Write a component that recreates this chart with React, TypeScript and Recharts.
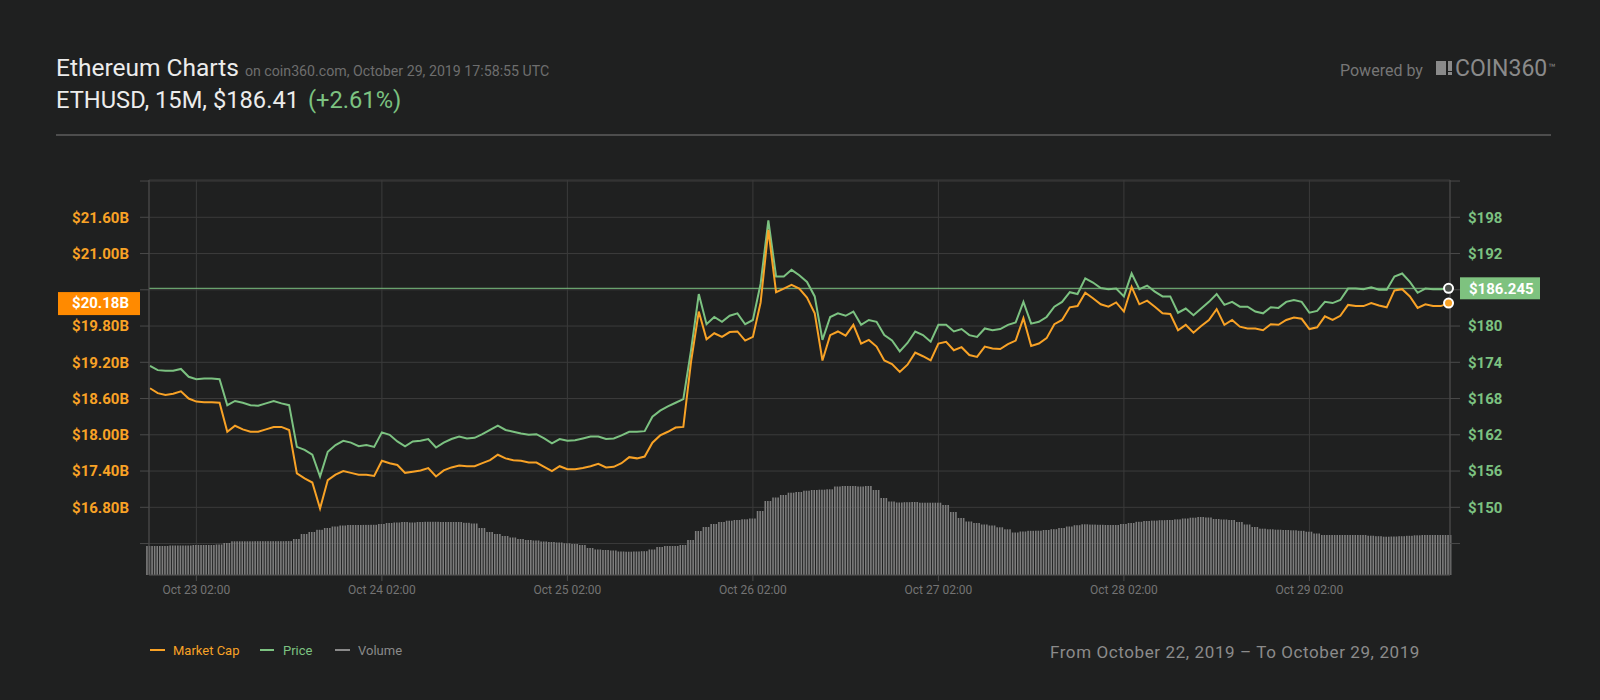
import React from "react";
import {Bar, CartesianGrid, ComposedChart, Line, ReferenceLine, XAxis, YAxis} from "recharts";

// hours counted from Oct 23 02:00, one point per hour
const firstHour = -6;

const price = [
    173.4, 172.7, 172.6, 172.6, 172.9, 171.6, 171.2, 171.3, 171.3, 171.2,
    166.9, 167.6, 167.3, 166.9, 166.8, 167.2, 167.6, 167.2, 166.9, 160.0,
    159.5, 158.7, 155.1, 159.2, 160.3, 161.0, 160.7, 160.1, 160.3, 160.0,
    162.4, 162.0, 160.9, 160.1, 160.9, 161.0, 161.3, 159.9, 160.7, 161.3,
    161.7, 161.4, 161.5, 162.1, 162.8, 163.5, 162.8, 162.5, 162.2, 162.0,
    162.1, 161.4, 160.6, 161.3, 161.0, 161.1, 161.4, 161.7, 161.7, 161.3,
    161.4, 161.9, 162.5, 162.5, 162.6, 165.0, 166.0, 166.7, 167.3, 167.9,
    176.0, 185.3, 180.3, 181.5, 180.7, 181.7, 182.1, 180.3, 181.0, 187.0,
    197.5, 188.2, 188.2, 189.3, 188.4, 187.3, 184.9, 177.7, 181.5, 182.1,
    181.7, 182.4, 180.2, 181.0, 180.7, 178.5, 177.6, 175.8, 177.2, 179.1,
    178.5, 177.4, 180.2, 180.2, 179.1, 179.5, 178.5, 178.2, 179.6, 179.3,
    179.5, 180.2, 180.6, 184.0, 180.4, 180.7, 181.5, 183.2, 184.0, 185.6,
    185.3, 187.9, 187.2, 186.3, 186.1, 186.2, 184.9, 188.7, 186.1, 186.7,
    185.7, 184.9, 184.9, 182.2, 182.9, 181.8, 182.9, 184.0, 185.3, 183.5,
    184.0, 183.2, 183.2, 182.4, 182.1, 183.1, 183.0, 184.0, 184.3, 184.0,
    182.2, 182.5, 184.0, 183.8, 184.3, 186.2, 186.2, 186.1, 186.4, 186.0,
    186.0, 188.2, 188.7, 187.3, 185.5, 186.2, 186.1, 186.1, 186.245,
];

// market cap, billions USD
const marketCap = [
    18.77, 18.69, 18.66, 18.68, 18.72, 18.60, 18.55, 18.54, 18.54, 18.53,
    18.05, 18.15, 18.09, 18.05, 18.05, 18.09, 18.13, 18.13, 18.08, 17.36,
    17.28, 17.21, 16.78, 17.25, 17.34, 17.40, 17.37, 17.34, 17.34, 17.32,
    17.57, 17.53, 17.50, 17.37, 17.39, 17.41, 17.45, 17.31, 17.41, 17.46,
    17.49, 17.48, 17.48, 17.53, 17.58, 17.67, 17.61, 17.58, 17.57, 17.54,
    17.54, 17.47, 17.40, 17.48, 17.43, 17.43, 17.45, 17.48, 17.52, 17.46,
    17.47, 17.53, 17.63, 17.61, 17.64, 17.87, 17.99, 18.05, 18.12, 18.13,
    19.21, 20.04, 19.58, 19.68, 19.62, 19.70, 19.71, 19.56, 19.62, 20.19,
    21.39, 20.36, 20.42, 20.48, 20.42, 20.27, 20.01, 19.23, 19.65, 19.71,
    19.64, 19.82, 19.51, 19.57, 19.46, 19.23, 19.17, 19.04, 19.16, 19.36,
    19.30, 19.23, 19.51, 19.54, 19.40, 19.45, 19.32, 19.29, 19.46, 19.43,
    19.42, 19.50, 19.56, 19.93, 19.47, 19.51, 19.60, 19.83, 19.90, 20.11,
    20.13, 20.35, 20.26, 20.16, 20.12, 20.19, 20.04, 20.45, 20.16, 20.22,
    20.12, 20.01, 20.00, 19.73, 19.82, 19.69, 19.80, 19.90, 20.08, 19.82,
    19.90, 19.79, 19.76, 19.76, 19.73, 19.83, 19.82, 19.90, 19.94, 19.92,
    19.75, 19.78, 19.96, 19.90, 19.97, 20.15, 20.13, 20.13, 20.18, 20.14,
    20.11, 20.39, 20.41, 20.29, 20.10, 20.16, 20.13, 20.13, 20.18,
];

// volume, millions USD
const volume = [
    290, 290, 290, 295, 295, 295, 300, 300, 300, 305,
    320, 337, 337, 337, 338, 338, 338, 338, 339, 360,
    410, 430, 452, 470, 485, 495, 500, 500, 501, 502,
    510, 520, 525, 530, 525, 530, 532, 532, 530, 530,
    530, 522, 515, 470, 430, 410, 390, 375, 360, 350,
    345, 335, 330, 325, 317, 310, 300, 270, 255, 250,
    245, 235, 233, 235, 238, 255, 280, 290, 290, 300,
    350, 440, 480, 510, 530, 543, 550, 557, 565, 640,
    740, 775, 800, 823, 830, 843, 850, 853, 857, 885,
    890, 890, 885, 890, 850, 770, 735, 725, 728, 730,
    723, 723, 723, 700, 630, 570, 535, 520, 505, 495,
    477, 457, 425, 435, 442, 443, 450, 458, 470, 485,
    498, 507, 504, 502, 500, 500, 510, 520, 532, 540,
    544, 548, 550, 556, 565, 573, 580, 575, 560, 555,
    550, 530, 505, 480, 463, 457, 453, 450, 447, 442,
    433, 415, 400, 400, 400, 400, 400, 400, 393, 388,
    383, 385, 388, 392, 397, 400, 400, 400, 400,
];

const dayTicks = [0, 24, 48, 72, 96, 120, 144];
const dayLabels = ["Oct 23 02:00", "Oct 24 02:00", "Oct 25 02:00", "Oct 26 02:00", "Oct 27 02:00", "Oct 28 02:00", "Oct 29 02:00"];
const capTicks = [16.2, 16.8, 17.4, 18.0, 18.6, 19.2, 19.8, 20.4, 21.0, 21.6, 22.2];
const capHidden = [16.2, 20.4, 22.2];
const priceTicks = [144, 150, 156, 162, 168, 174, 180, 186, 192, 198, 204];
const priceHidden = [144, 186, 204];
const lastPrice = 186.245;
const lastCap = 20.18;

const ORANGE = "#f8a226";
const GREEN = "#7cc281";
const BG = "#1f2020";
const GRID = "#3b3b3b";

const data = price.map((p, i) => ({t: firstHour + i, price: p, cap: marketCap[i], vol: volume[i]}));

const VolumeStripes = (props: any) => {
    const {x, y, width, height} = props;
    if (!height || height <= 0) return <g/>;
    const pitch = width / 3;
    return (
        <g>
            {[0, 1, 2].map(i => (
                <rect key={i} x={x + i * pitch} y={y} width={pitch * 0.62} height={height} fill="#7e7e7e"/>
            ))}
        </g>
    );
};

const endDot = (fill: string) => (props: any) => {
    const {cx, cy, index} = props;
    if (index !== price.length - 1) return <g key={"d" + index}/>;
    return <circle key={"d" + index} cx={cx} cy={cy} r={4.5} fill={fill} stroke="#fff" strokeWidth={2}/>;
};

const PriceBadge = (props: any) => {
    const vb = props.viewBox || {};
    const right = vb.x + vb.width;
    return (
        <g>
            <rect x={right + 10} y={vb.y - 11} width={80} height={22} fill="#7ec27f"/>
            <text x={right + 19} y={vb.y} dy="0.36em" fill="#fff" fontSize={15} fontWeight={700}>
                {"$" + lastPrice.toFixed(3)}
            </text>
        </g>
    );
};

const CapBadge = (props: any) => {
    const vb = props.viewBox || {};
    return (
        <g>
            <rect x={vb.x - 91} y={vb.y - 11} width={82} height={23} fill="#ff8a00"/>
            <text x={vb.x - 20} y={vb.y} dy="0.36em" textAnchor="end" fill="#fff" fontSize={15} fontWeight={700}>
                {"$" + lastCap.toFixed(2) + "B"}
            </text>
        </g>
    );
};

const abs = (style: React.CSSProperties): React.CSSProperties => ({position: "absolute", whiteSpace: "nowrap", ...style});

export default function App() {
    return (
        <div style={{position: "absolute", left: 0, top: 0, width: 1600, height: 700, background: BG, fontFamily: "Roboto", overflow: "hidden"}}>
            <div style={abs({left: 56, top: 56, fontSize: 24.5, lineHeight: "24.5px", color: "#ececec"})}>
                Ethereum Charts
                <span style={{fontSize: 14.2, color: "#6e6e6e", marginLeft: 6}}>on coin360.com, October 29, 2019 17:58:55 UTC</span>
            </div>
            <div style={abs({left: 56, top: 88.5, fontSize: 23.7, lineHeight: "23.7px", color: "#ececec"})}>
                ETHUSD, 15M, $186.41 <span style={{color: GREEN, marginLeft: 3}}>(+2.61%)</span>
            </div>
            <div style={abs({left: 1340, top: 62.5, fontSize: 16, lineHeight: "16px", color: "#767676"})}>Powered by</div>
            <div style={abs({left: 1436, top: 61, width: 10, height: 14, background: "#8a8a8a"})}/>
            <div style={abs({left: 1448, top: 61, width: 4, height: 10, background: "#8a8a8a"})}/>
            <div style={abs({left: 1448, top: 72, width: 4, height: 3, background: "#8a8a8a"})}/>
            <div style={abs({left: 1455, top: 56.5, fontSize: 23, lineHeight: "23px", color: "#8a8a8a"})}>
                COIN360<span style={{fontSize: 12, verticalAlign: "top", marginLeft: 1}}>™</span>
            </div>
            <div style={abs({left: 56, top: 134, width: 1495, height: 2, background: "#4d4d4d"})}/>

            <div style={abs({left: 0, top: 0})}>
                <ComposedChart width={1600} height={700} data={data} margin={{top: 180, right: 0, bottom: 95, left: 0}}>
                    <CartesianGrid stroke={GRID} yAxisId="mc"/>
                    <XAxis dataKey="t" type="number" domain={[-6.13, 162.19]} ticks={dayTicks} height={30}
                           tickFormatter={(v: number) => dayLabels[dayTicks.indexOf(v)] ?? ""}
                           tick={{fill: "#747474", fontSize: 12}} tickSize={6} tickMargin={4}
                           stroke="#4a4a4a"/>
                    <YAxis yAxisId="mc" orientation="left" width={149} domain={[15.6795, 22.217]} ticks={capTicks}
                           tickFormatter={(v: number) => capHidden.includes(v) ? "" : "$" + v.toFixed(2) + "B"}
                           tick={{fill: ORANGE, fontSize: 15, fontWeight: 700}} tickSize={9} tickMargin={11}
                           stroke="#4a4a4a"/>
                    <YAxis yAxisId="pr" orientation="right" width={150} domain={[138.795, 204.17]} ticks={priceTicks}
                           tickFormatter={(v: number) => priceHidden.includes(v) ? "" : "$" + v}
                           tick={{fill: GREEN, fontSize: 15, fontWeight: 700, textAnchor: "start"}} tickSize={10} tickMargin={8}
                           stroke="#4a4a4a"/>
                    <YAxis yAxisId="vol" hide domain={[0, 3950]}/>
                    <Bar yAxisId="vol" dataKey="vol" barSize={7.7} shape={<VolumeStripes/>} isAnimationActive={false}/>
                    <ReferenceLine yAxisId="pr" y={lastPrice} stroke={GREEN} strokeWidth={1} label={<PriceBadge/>}/>
                    <ReferenceLine yAxisId="mc" y={lastCap} stroke="none" label={<CapBadge/>}/>
                    <Line yAxisId="pr" dataKey="price" stroke={GREEN} strokeWidth={2} type="linear"
                          dot={endDot("#4a4f4a")} activeDot={false} isAnimationActive={false}/>
                    <Line yAxisId="mc" dataKey="cap" stroke={ORANGE} strokeWidth={2} type="linear"
                          dot={endDot(ORANGE)} activeDot={false} isAnimationActive={false}/>
                </ComposedChart>
            </div>

            <div style={abs({left: 150, top: 649, width: 15, height: 2, background: ORANGE})}/>
            <div style={abs({left: 173, top: 644, fontSize: 13, lineHeight: "13px", color: ORANGE})}>Market Cap</div>
            <div style={abs({left: 260, top: 649, width: 14, height: 2, background: GREEN})}/>
            <div style={abs({left: 283, top: 644, fontSize: 13, lineHeight: "13px", color: GREEN})}>Price</div>
            <div style={abs({left: 335, top: 649, width: 15, height: 2, background: "#8a8a8a"})}/>
            <div style={abs({left: 358, top: 644, fontSize: 13, lineHeight: "13px", color: "#8a8a8a"})}>Volume</div>

            <div style={abs({right: 180, top: 643.5, fontSize: 17, lineHeight: "17px", letterSpacing: 0.6, color: "#8b8b8b", textAlign: "right"})}>
                From October 22, 2019 – To October 29, 2019
            </div>
        </div>
    );
}
